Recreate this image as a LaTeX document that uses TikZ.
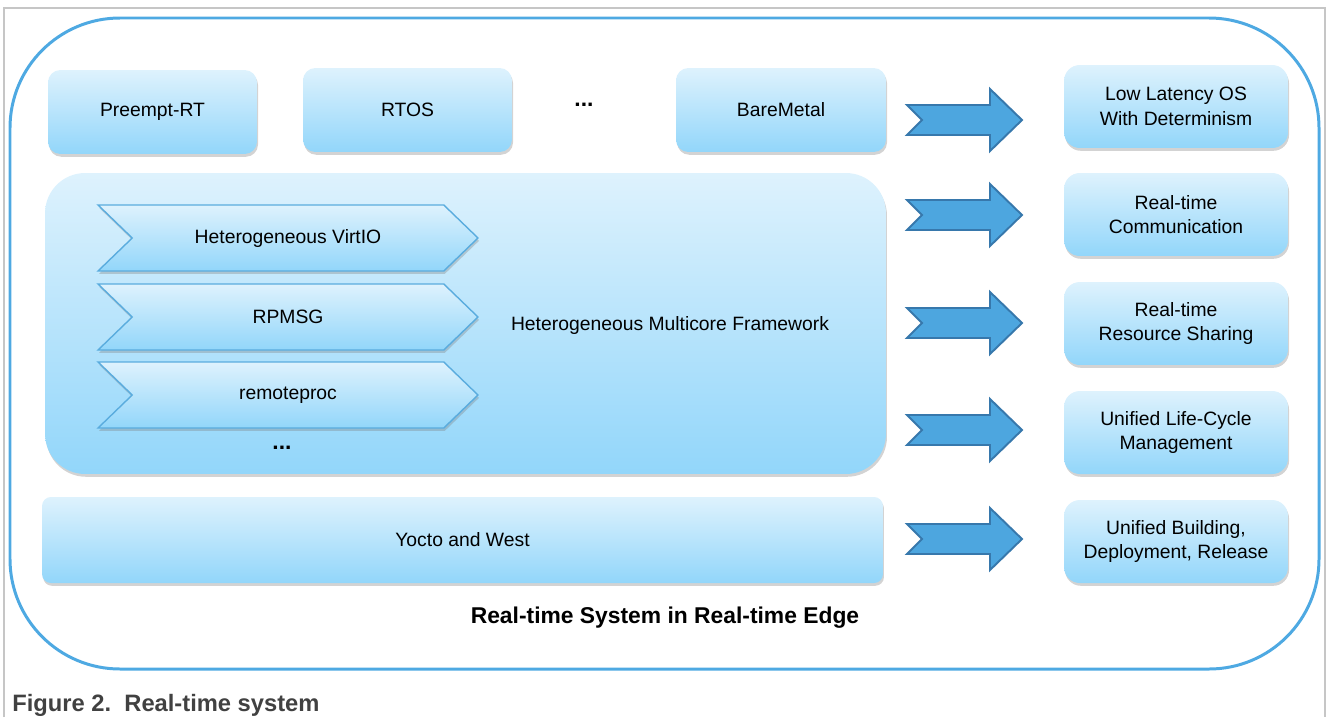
\documentclass[tikz,border=0pt]{standalone}
\usepackage{fontspec}
\setmainfont{Liberation Sans}
\usetikzlibrary{shapes.symbols,shadows}
\definecolor{boxtop}{RGB}{222,242,253}
\definecolor{boxbot}{RGB}{146,214,250}
\definecolor{edgeblue}{RGB}{78,169,226}
\definecolor{arrowfill}{RGB}{77,166,223}
\definecolor{arrowline}{RGB}{55,120,172}
\definecolor{chevline}{RGB}{90,172,222}
\definecolor{capgray}{RGB}{65,65,65}
\tikzset{
  softshadow/.style={drop shadow={shadow xshift=0.6pt,shadow yshift=-1.6pt,opacity=0.35}},
  box/.style={rounded corners=7pt, top color=boxtop, bottom color=boxbot, softshadow,
    font=\fontsize{11}{14}\selectfont, align=center, inner sep=0pt},
  chev/.style={signal, signal from=west, signal to=east, signal pointer angle=88,
    draw=chevline, line width=0.8pt, top color=boxtop, bottom color=boxbot, softshadow,
    minimum width=7.6cm, minimum height=1.32cm, inner sep=0pt, font=\fontsize{11}{14}\selectfont},
  dots/.style={font=\fontsize{13}{15}\selectfont\bfseries},
  bigarrow/.pic={
    \draw[fill=arrowfill, draw=arrowline, line width=1.1pt, line join=miter]
      (0,-15) -- (83,-15) -- (83,-31) -- (115,0) -- (83,31) -- (83,15) -- (0,15) -- (15,0) -- cycle;}
}
\begin{document}
\begin{tikzpicture}[x=0.02cm,y=-0.02cm]
  \useasboundingbox (0,0) rectangle (1328,717);
  \draw[gray!45, line width=0.6pt] (4,717) -- (4,8) -- (1325,8) -- (1325,717);
  \draw[edgeblue, line width=1.7pt, rounded corners=2.2cm] (10,18) rectangle (1319,669);

  \node[box, minimum width=4.18cm, minimum height=1.68cm] (prt) at (152.5,112) {Preempt-RT};
  \node[box, minimum width=4.18cm, minimum height=1.68cm] (rtos) at (407.5,110) {RTOS};
  \node[dots] (osdots) at (584,105) {...};
  \node[box, minimum width=4.2cm, minimum height=1.68cm] (bare) at (781,110) {BareMetal};

  \node[box, rounded corners=0.8cm, minimum width=16.82cm, minimum height=6.02cm] (hmf) at (465.5,323.5) {};
  \node[font=\fontsize{11}{14}\selectfont] (hmftext) at (670,325) {Heterogeneous Multicore Framework};
  \node[chev] (virtio) at (288,238) {Heterogeneous VirtIO};
  \node[chev] (rpmsg) at (288,317) {RPMSG};
  \node[chev] (rproc) at (288,395) {remoteproc};
  \node[dots] (hmfdots) at (282,448) {...};

  \node[box, rounded corners=5pt, minimum width=16.82cm, minimum height=1.72cm] (yocto) at (462.5,540) {Yocto and West};

  \node[box, rounded corners=9pt, minimum width=4.48cm, minimum height=1.66cm] (lat) at (1176,106.5) {Low Latency OS\\With Determinism};
  \node[box, rounded corners=9pt, minimum width=4.48cm, minimum height=1.66cm] (comm) at (1176,214.5) {Real-time\\Communication};
  \node[box, rounded corners=9pt, minimum width=4.48cm, minimum height=1.66cm] (share) at (1176,323.5) {Real-time\\Resource Sharing};
  \node[box, rounded corners=9pt, minimum width=4.48cm, minimum height=1.66cm] (life) at (1176,432.5) {Unified Life-Cycle\\Management};
  \node[box, rounded corners=9pt, minimum width=4.48cm, minimum height=1.66cm] (build) at (1176,541.5) {Unified Building,\\Deployment, Release};

  \foreach \y in {120,215,323,430,539}
    \pic at (907,\y) {bigarrow};

  \node[font=\fontsize{13}{15}\selectfont\bfseries] (title) at (665,618) {Real-time System in Real-time Edge};
  \node[anchor=west, inner sep=0pt, text=capgray, font=\fontsize{13.5}{16}\selectfont\bfseries] (caption) at (12,705) {Figure 2.\ \ Real-time system};
\end{tikzpicture}
\end{document}
